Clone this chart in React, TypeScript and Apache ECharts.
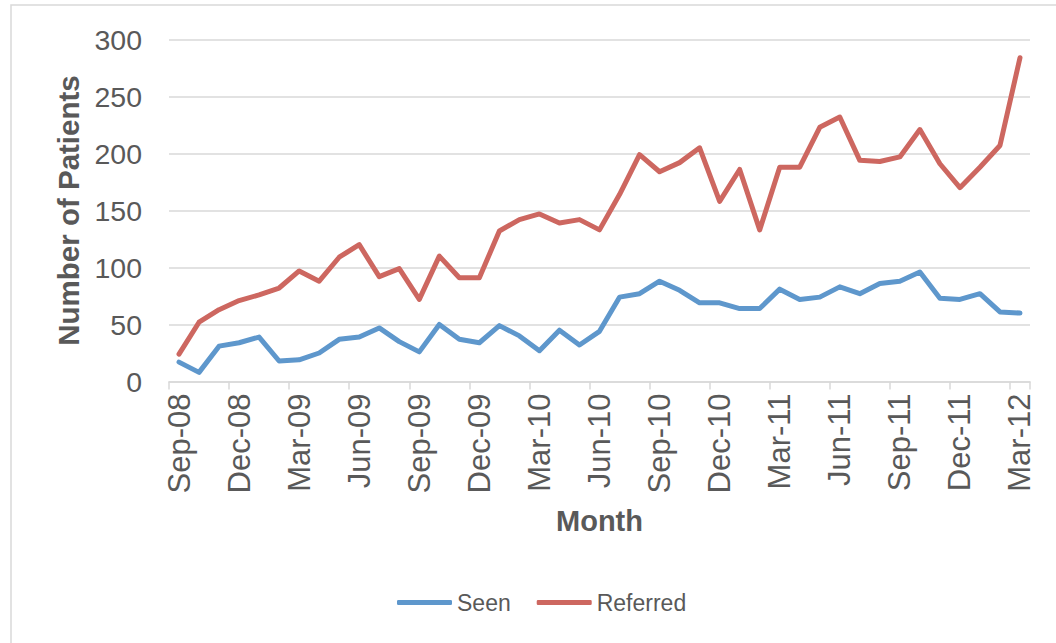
import React, { useEffect, useRef } from "react";
import * as echarts from "echarts";

const months: string[] = [
  "Sep-08", "Oct-08", "Nov-08", "Dec-08", "Jan-09", "Feb-09", "Mar-09", "Apr-09", "May-09", "Jun-09",
  "Jul-09", "Aug-09", "Sep-09", "Oct-09", "Nov-09", "Dec-09", "Jan-10", "Feb-10", "Mar-10", "Apr-10",
  "May-10", "Jun-10", "Jul-10", "Aug-10", "Sep-10", "Oct-10", "Nov-10", "Dec-10", "Jan-11", "Feb-11",
  "Mar-11", "Apr-11", "May-11", "Jun-11", "Jul-11", "Aug-11", "Sep-11", "Oct-11", "Nov-11", "Dec-11",
  "Jan-12", "Feb-12", "Mar-12",
];

const seen: number[] = [
  17, 8, 31, 34, 39, 18, 19, 25, 37, 39,
  47, 35, 26, 50, 37, 34, 49, 40, 27, 45,
  32, 44, 74, 77, 88, 80, 69, 69, 64, 64,
  81, 72, 74, 83, 77, 86, 88, 96, 73, 72,
  77, 61, 60,
];

const referred: number[] = [
  24, 52, 63, 71, 76, 82, 97, 88, 109, 120,
  92, 99, 72, 110, 91, 91, 132, 142, 147, 139,
  142, 133, 164, 199, 184, 192, 205, 158, 186, 133,
  188, 188, 223, 232, 194, 193, 197, 221, 191, 170,
  188, 207, 284,
];

const yTicks = { min: 0, max: 300, interval: 50 };

const TEXT = "#595959";
const GRID = "#D9D9D9";
const FONT = "Liberation Sans, Arial, sans-serif";

export default function App() {
  const ref = useRef<HTMLDivElement>(null);
  useEffect(() => {
    if (!ref.current) return;
    const chart = echarts.init(ref.current, undefined, { renderer: "svg" });
    chart.setOption({
      animation: false,
      backgroundColor: "#ffffff",
      textStyle: { fontFamily: FONT },
      graphic: [
        {
          type: "rect",
          silent: true,
          shape: { x: 11, y: 5, width: 1200, height: 800 },
          style: { fill: "none", stroke: GRID, lineWidth: 1.5 },
        },
      ],
      grid: { left: 169, right: 26, top: 39.5, bottom: 261.5, containLabel: false },
      legend: {
        bottom: 29,
        left: 397,
        padding: 0,
        icon: "roundRect",
        itemWidth: 55,
        itemHeight: 5,
        itemGap: 26,
        textStyle: { color: TEXT, fontSize: 23, fontFamily: FONT, padding: [0, 0, 0, 0] },
        data: ["Seen", "Referred"],
      },
      xAxis: {
        type: "category",
        data: months,
        boundaryGap: true,
        name: "Month",
        nameLocation: "middle",
        nameGap: 125,
        nameTextStyle: { color: TEXT, fontSize: 29, fontWeight: "bold", fontFamily: FONT },
        axisLine: { show: true, lineStyle: { color: GRID, width: 1.5 } },
        axisTick: { show: true, interval: 2, length: 8, lineStyle: { color: GRID, width: 1.5 } },
        axisLabel: { interval: 2, rotate: 90, color: TEXT, fontSize: 31, margin: 12, fontFamily: FONT },
        splitLine: { show: false },
      },
      yAxis: {
        type: "value",
        min: yTicks.min,
        max: yTicks.max,
        interval: yTicks.interval,
        name: "Number of Patients",
        nameLocation: "middle",
        nameGap: 86,
        nameTextStyle: { color: TEXT, fontSize: 29.5, fontWeight: "bold", fontFamily: FONT },
        axisLine: { show: false },
        axisTick: { show: false },
        axisLabel: { color: TEXT, fontSize: 28.5, margin: 27, fontFamily: FONT },
        splitLine: { show: true, lineStyle: { color: GRID, width: 1.5 } },
      },
      series: [
        {
          name: "Seen",
          type: "line",
          data: seen,
          symbol: "none",
          showSymbol: false,
          lineStyle: { color: "#5E97CC", width: 5, cap: "round", join: "round" },
          itemStyle: { color: "#5E97CC" },
        },
        {
          name: "Referred",
          type: "line",
          data: referred,
          symbol: "none",
          showSymbol: false,
          lineStyle: { color: "#CD6760", width: 5, cap: "round", join: "round" },
          itemStyle: { color: "#CD6760" },
        },
      ],
    });
    return () => chart.dispose();
  }, []);
  return (
    <div
      ref={ref}
      style={{ position: "fixed", left: 0, top: 0, width: 1056, height: 643, background: "#fff" }}
    />
  );
}
